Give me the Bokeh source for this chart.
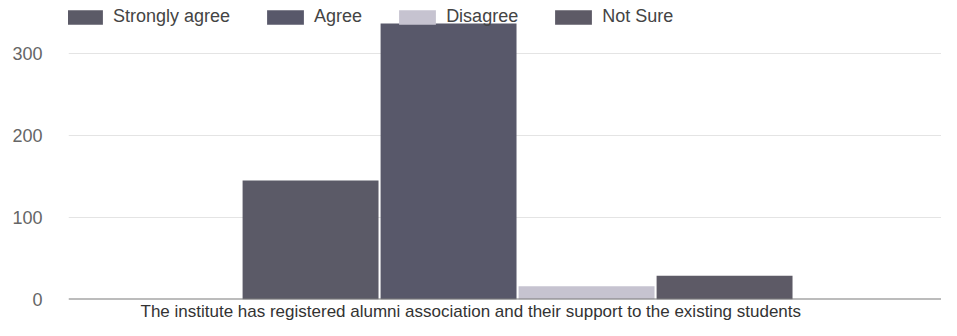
from bokeh.plotting import figure
from bokeh.models import Range1d, Legend, LegendItem, Title, Span, ColumnDataSource, FixedTicker
from bokeh.embed import file_html
from bokeh.resources import INLINE

question = "The institute has registered alumni association and their support to the existing students"
series = ["Strongly agree", "Agree", "Disagree", "Not Sure"]
values = [145, 336, 16, 29]
colors = ["#5b5a67", "#58586a", "#c6c3d0", "#5d5a66"]
y_ticks = [0, 100, 200, 300]

n = len(series)
offsets = [i - (n - 1) / 2 for i in range(n)]

p = figure(width=941, height=320, output_backend="svg", toolbar_location=None,
           x_range=Range1d(-3.254, 3.072), y_range=Range1d(0, 364),
           min_border_left=68, min_border_right=0, min_border_top=0, min_border_bottom=0)
p.outline_line_color = None
p.background_fill_color = "white"
p.border_fill_color = "white"

items = []
for off, s, v, c in zip(offsets, series, values, colors):
    src = ColumnDataSource(dict(x=[off], top=[v]))
    r = p.vbar(x="x", top="top", width=0.985, source=src, fill_color=c, line_color=None)
    items.append(LegendItem(label=s, renderers=[r]))

p.xaxis.visible = False
p.xgrid.grid_line_color = None
p.ygrid.grid_line_color = "#e4e4e4"
p.ygrid.grid_line_width = 1

p.yaxis.ticker = FixedTicker(ticks=y_ticks)
p.yaxis.axis_line_color = None
p.yaxis.major_tick_line_color = None
p.yaxis.minor_tick_line_color = None
p.yaxis.major_label_standoff = 20
p.yaxis.major_label_text_font = "Liberation Sans"
p.yaxis.major_label_text_font_size = "18px"
p.yaxis.major_label_text_color = "#666666"

p.add_layout(Span(location=0, dimension="width", line_color="#7a7a7a", line_width=2))

legend = Legend(items=items, orientation="horizontal", location=(-7, 272),
                glyph_width=46, glyph_height=18, label_standoff=6, spacing=32,
                padding=0, margin=0, border_line_color=None, background_fill_alpha=0,
                label_text_font="Liberation Sans", label_text_font_size="18px",
                label_text_color="#444444")
p.add_layout(legend)

p.add_layout(Title(text=question, align="left", offset=72, text_font="Liberation Sans",
                   text_font_size="17px", text_font_style="normal", text_color="#333333",
                   standoff=0), "below")

open("out.html", "w").write(file_html(p, INLINE))
